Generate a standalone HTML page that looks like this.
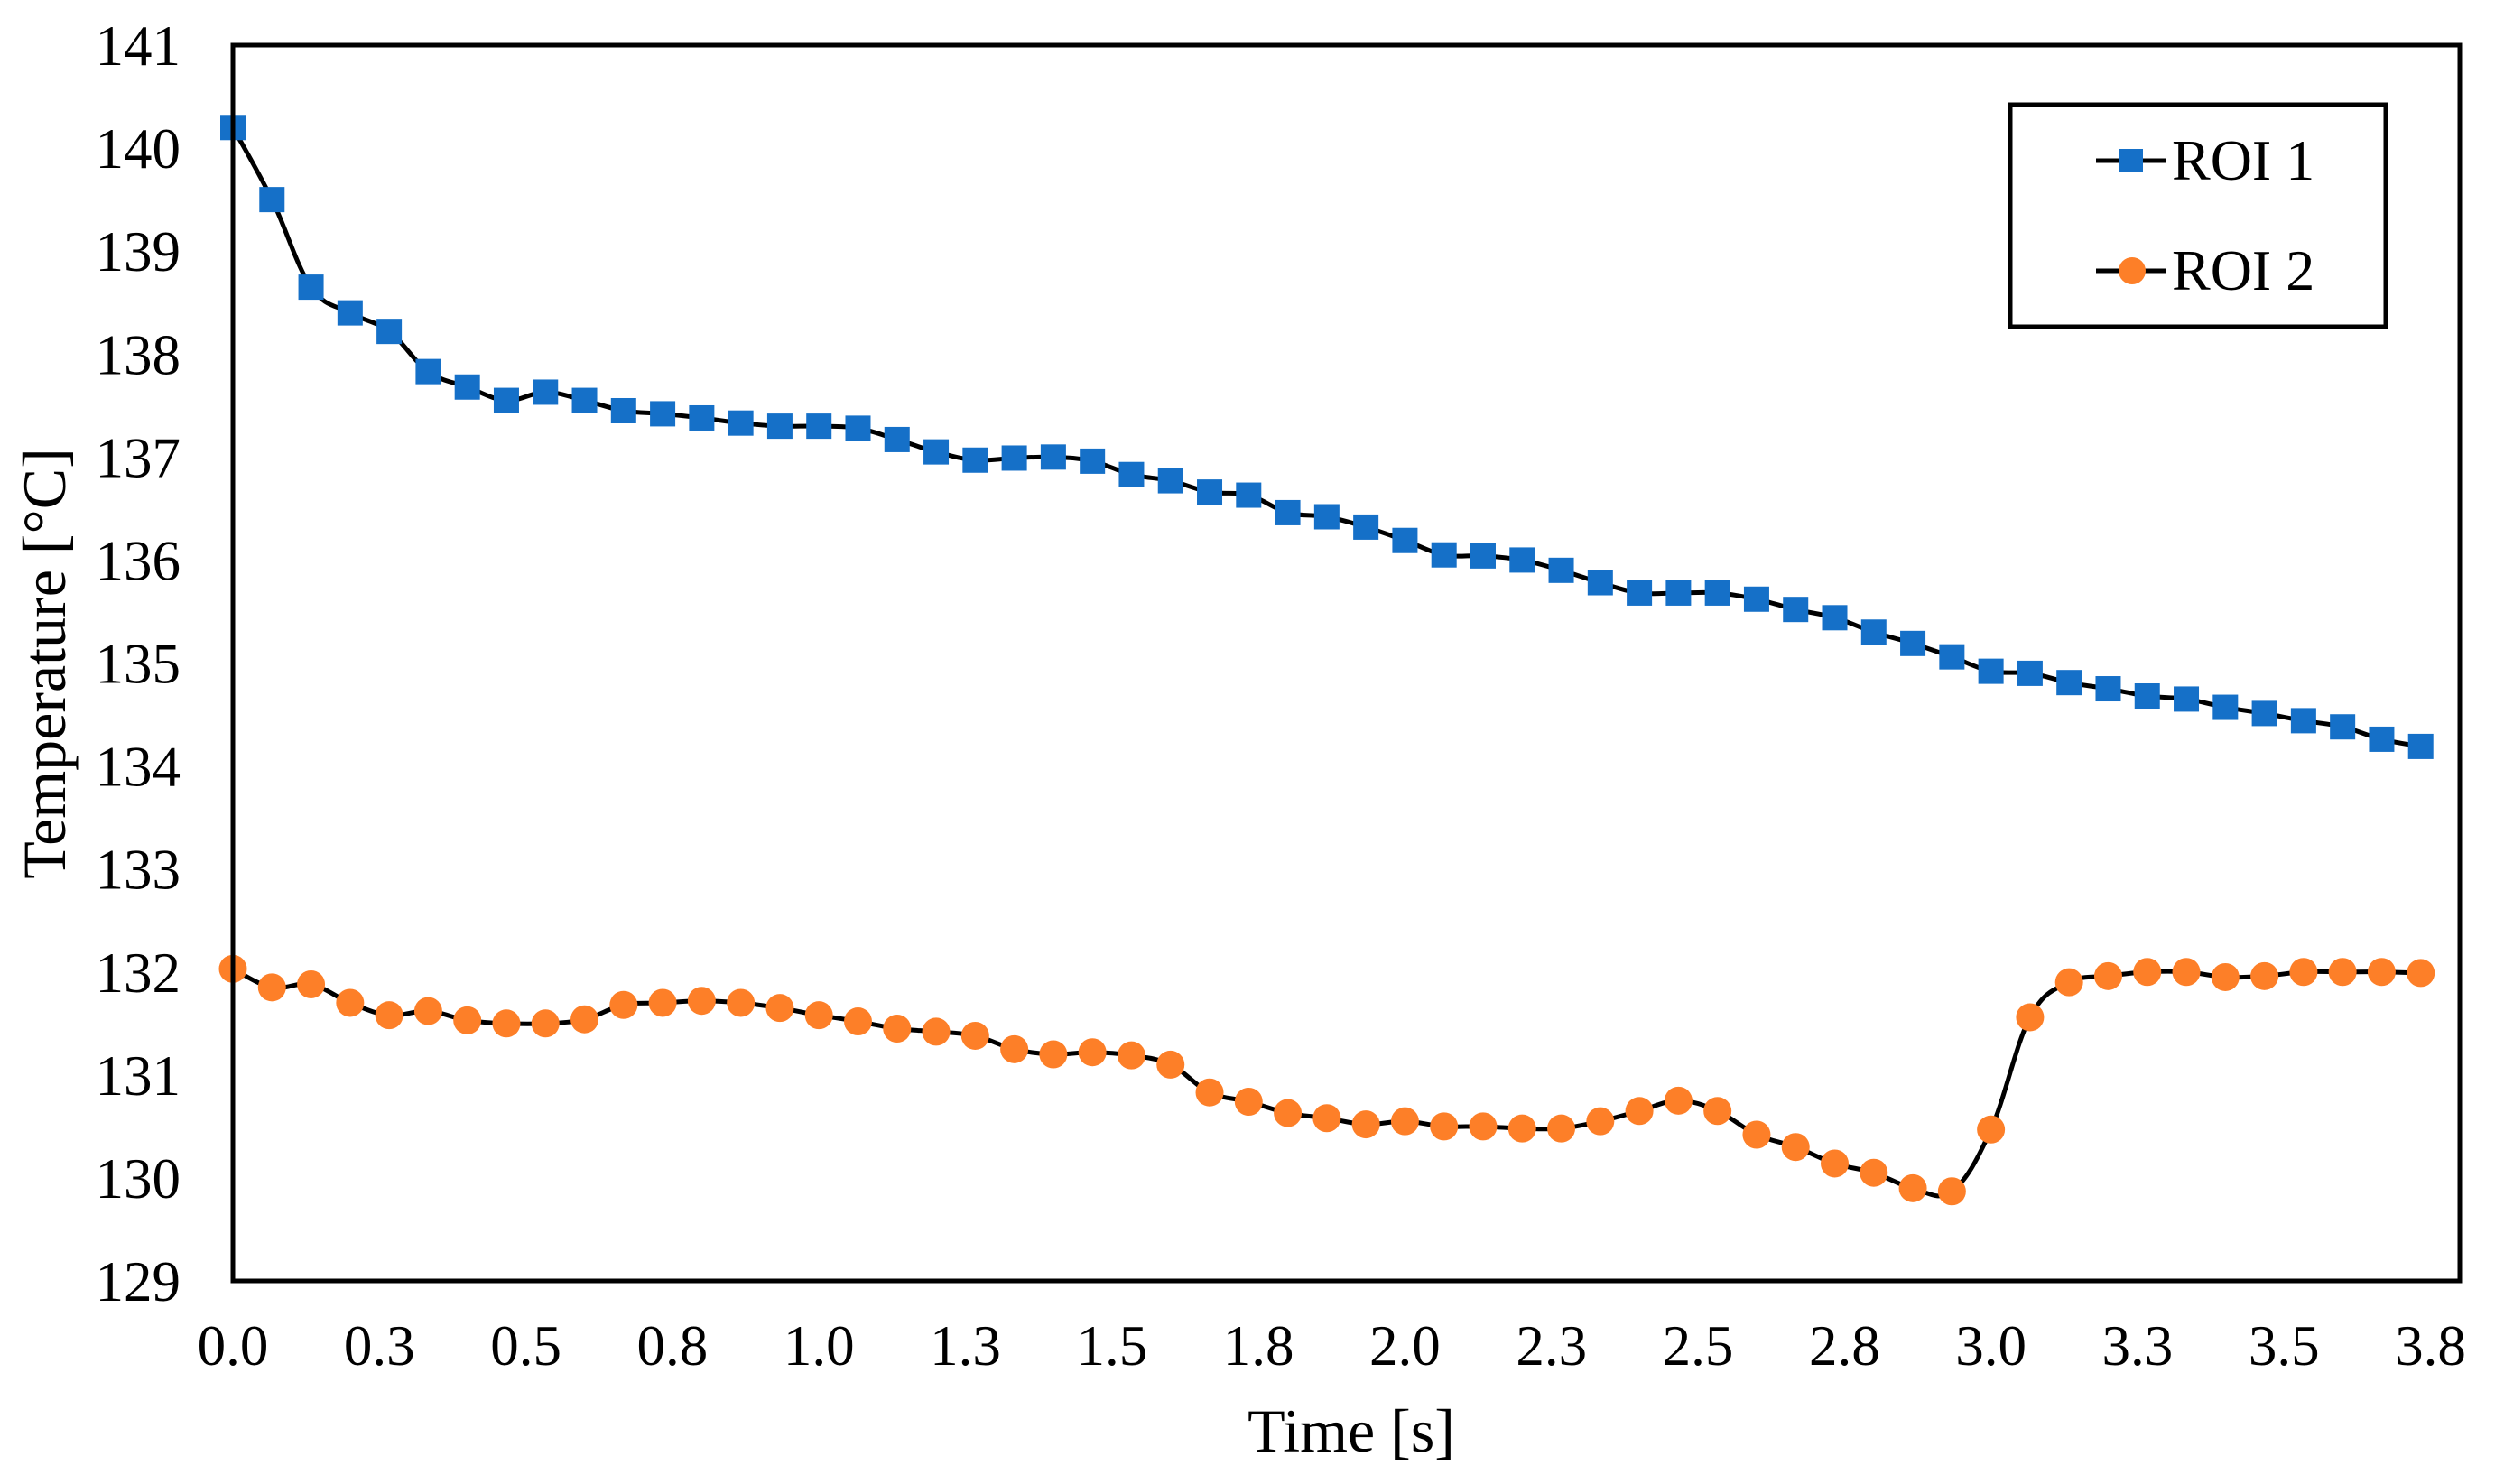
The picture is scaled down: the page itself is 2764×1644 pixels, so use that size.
<!DOCTYPE html>
<html><head><meta charset="utf-8"><style>
html,body{margin:0;padding:0;background:#fff;}
svg{display:block;font-family:"Liberation Serif","Times New Roman",serif;}
</style></head><body>
<svg id="chart" width="2764" height="1644" viewBox="0 0 2764 1644" xmlns="http://www.w3.org/2000/svg">
<g id="plot"></g>
<rect x="258" y="50" width="2467" height="1369" fill="none" stroke="#000" stroke-width="5"/>
<g id="yticks"></g>
<g id="xticks"></g>
<text transform="translate(72,735) rotate(-90)" text-anchor="middle" font-size="68">Temperature [°C]</text>
<text x="1497" y="1608" text-anchor="middle" font-size="68">Time [s]</text>
<g>
<rect x="2227" y="116" width="416" height="246" fill="#fff" stroke="#000" stroke-width="5"/>
<g>
<line x1="2322" y1="178" x2="2400" y2="178" stroke="#000" stroke-width="5"/>
<rect x="2348" y="165" width="26" height="26" fill="#1570c8"/>
<text x="2406" y="199" font-size="64">ROI 1</text></g>
<g>
<line x1="2322" y1="300" x2="2400" y2="300" stroke="#000" stroke-width="5"/>
<circle cx="2362" cy="300" r="15" fill="#fd7f28"/>
<text x="2406" y="321" font-size="64">ROI 2</text></g>
</g>
</svg>
<script>
const roi1 = [140.2,139.5,138.65,138.4,138.22,137.83,137.68,137.55,137.63,137.55,137.45,137.42,137.38,137.33,137.3,137.3,137.28,137.17,137.05,136.97,136.99,137.0,136.96,136.83,136.77,136.66,136.63,136.46,136.42,136.32,136.19,136.05,136.04,136.0,135.9,135.78,135.68,135.68,135.68,135.62,135.52,135.44,135.3,135.19,135.06,134.92,134.9,134.81,134.75,134.68,134.65,134.57,134.51,134.44,134.38,134.26,134.19];
const roi2 = [132.03,131.85,131.88,131.7,131.58,131.62,131.53,131.5,131.5,131.54,131.68,131.7,131.72,131.7,131.65,131.58,131.52,131.45,131.42,131.38,131.25,131.2,131.22,131.19,131.1,130.83,130.74,130.63,130.58,130.52,130.55,130.5,130.5,130.48,130.48,130.55,130.65,130.75,130.65,130.42,130.3,130.14,130.05,129.9,129.87,130.47,131.56,131.9,131.96,132.0,132.0,131.95,131.96,132.0,132.0,132.0,131.99];
const timeStep = 1/15;
const yTicks = [129,130,131,132,133,134,135,136,137,138,139,140,141];
const xTicks = [0,0.25,0.5,0.75,1,1.25,1.5,1.75,2,2.25,2.5,2.75,3,3.25,3.5,3.75];
const xTickLabels = ["0.0","0.3","0.5","0.8","1.0","1.3","1.5","1.8","2.0","2.3","2.5","2.8","3.0","3.3","3.5","3.8"];
const NS="http://www.w3.org/2000/svg";
const X0=258,X1=2725,Y0=1419,Y1=50,XMIN=0,XMAX=3.8,YMIN=129,YMAX=141;
function xs(v){return X0+(v-XMIN)/(XMAX-XMIN)*(X1-X0);}
function ys(v){return Y0-(v-YMIN)/(YMAX-YMIN)*(Y0-Y1);}
function mk(tag,attrs,parent){const e=document.createElementNS(NS,tag);for(const k in attrs)e.setAttribute(k,attrs[k]);parent.appendChild(e);return e;}
const yg=document.getElementById('yticks'), xg=document.getElementById('xticks'), plot=document.getElementById('plot');
yTicks.forEach(v=>{const t=mk('text',{x:200,y:ys(v)+22,'text-anchor':'end','font-size':63},yg);


t.textContent=v;});
xTicks.forEach((v,i)=>{const t=mk('text',{x:xs(v),y:1512,'text-anchor':'middle','font-size':63},xg);


t.textContent=xTickLabels[i];});
function smooth(pts){let d=`M${pts[0][0]},${pts[0][1]}`;const k=0.18;
for(let i=0;i<pts.length-1;i++){const p0=pts[i-1]||pts[i],p1=pts[i],p2=pts[i+1],p3=pts[i+2]||p2;
d+=` C${p1[0]+(p2[0]-p0[0])*k},${p1[1]+(p2[1]-p0[1])*k} ${p2[0]-(p3[0]-p1[0])*k},${p2[1]-(p3[1]-p1[1])*k} ${p2[0]},${p2[1]}`;}return d;}
function series(data,name,color,shape){
const g=mk('g',{},plot);


const pts=data.map((v,i)=>[xs(i*timeStep),ys(v)]);
const p=mk('path',{d:smooth(pts),fill:'none',stroke:'#000','stroke-width':5},g);


pts.forEach(q=>{let m;
if(shape==='sq'){m=mk('rect',{x:q[0]-14,y:q[1]-14,width:28,height:28,fill:color},g);}
else{m=mk('circle',{cx:q[0],cy:q[1],r:15.5,fill:color},g);}

});}
series(roi1,'roi1-series','#1570c8','sq');
series(roi2,'roi2-series','#fd7f28','ci');
</script>
</body></html>
